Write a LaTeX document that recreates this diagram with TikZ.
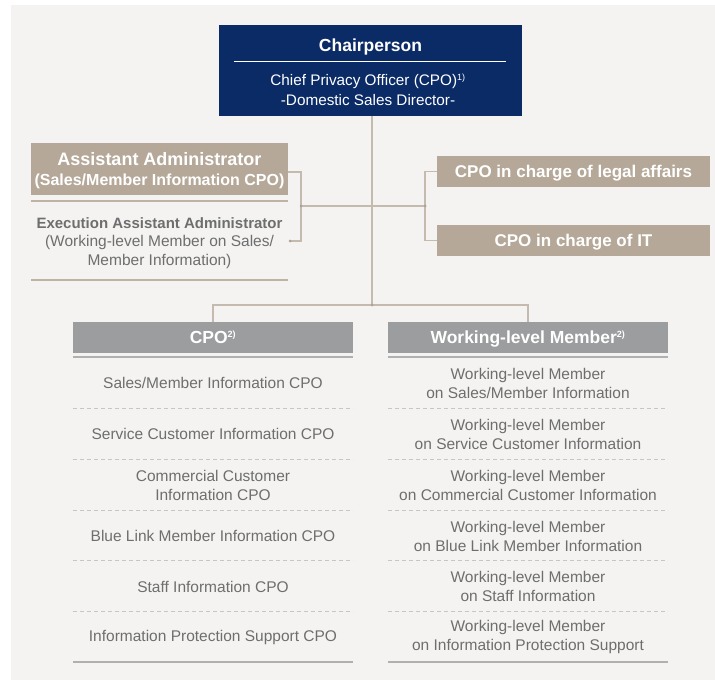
\documentclass[tikz,border=0pt]{standalone}
\usepackage{fontspec}
\setmainfont{Liberation Sans}
\definecolor{bgc}{HTML}{F4F3F1}
\definecolor{navyc}{HTML}{0B2B66}
\definecolor{tanc}{HTML}{B5A898}
\definecolor{tanline}{HTML}{BFB3A6}
\definecolor{hdrc}{HTML}{9B9D9F}
\definecolor{hdrline}{HTML}{AEB0B2}
\definecolor{txtc}{HTML}{6E6E6E}
\definecolor{conc}{HTML}{C4BAAE}
\definecolor{dotc}{HTML}{ADA295}
\definecolor{dashc}{HTML}{C6C6C6}
\begin{document}
\begin{tikzpicture}[x=1pt,y=-1pt,
  conn/.style={draw=conc, line width=1.2pt},
  jdot/.style={circle, fill=dotc, inner sep=0pt, minimum size=3pt},
  box/.style={inner sep=0pt, outer sep=0pt, draw=none},
  tanbox/.style={box, fill=tanc, text=white, minimum width=273pt, minimum height=31pt,
    text height=12pt, text depth=0pt, font=\bfseries\fontsize{17}{20}\selectfont},
  hdr/.style={box, fill=hdrc, text=white, minimum width=280pt, minimum height=31pt,
    text height=12.5pt, text depth=0pt, font=\bfseries\fontsize{17.5}{20}\selectfont},
  rowtxt/.style={text=txtc, align=center, inner sep=0pt, font=\fontsize{15.5}{19}\selectfont},
  dashsep/.style={draw=dashc, line width=1pt, dash pattern=on 4pt off 3pt},
  solidsep/.style={draw=hdrline, line width=1.8pt},
  tansep/.style={draw=tanline, line width=1.4pt}
]
\useasboundingbox (0,0) rectangle (715,680);
\fill[white] (0,0) rectangle (715,680);
\fill[bgc] (11,5) rectangle (715,680);

% Chairperson
\node[box, fill=navyc, minimum width=303pt, minimum height=91pt] (chair) at (370.5,70.5) {};
\node[text=white, inner sep=0pt, font=\bfseries\fontsize{17.5}{20}\selectfont] (chairT) at (370.5,46.5) {Chairperson};
\coordinate (cl1) at (234,61.5);
\coordinate (cl2) at (506,61.5);
\draw[white, line width=1pt] (cl1) -- (cl2);
\node[text=white, inner sep=0pt, align=center, font=\fontsize{15.3}{20}\selectfont] (chairS) at (368,89.5)
  {Chief Privacy Officer (CPO)\textsuperscript{\fontsize{9}{9}\selectfont 1)}\\-Domestic Sales Director-};

% Assistant administrator
\node[box, fill=tanc, minimum width=257pt, minimum height=52pt] (asst) at (159.5,169) {};
\node[text=white, align=center, inner sep=0pt, font=\bfseries\fontsize{16}{20}\selectfont] (asstT) at (159.5,171)
  {{\fontsize{18}{20}\selectfont Assistant Administrator}\\(Sales/Member Information CPO)};
\coordinate (al1) at (31,201);
\coordinate (al2) at (288,201);
\draw[tansep] (al1) -- (al2);
\node[text=txtc, align=center, inner sep=0pt, font=\fontsize{15.5}{18.5}\selectfont] (exec) at (159.5,243)
  {{\bfseries\fontsize{15}{18.5}\selectfont Execution Assistant Administrator}\\(Working-level Member on Sales/\\Member Information)};
\coordinate (el1) at (31,280);
\coordinate (el2) at (288,280);
\draw[tansep] (el1) -- (el2);

% Right boxes
\node[tanbox] (legal) at (573.5,171.5) {CPO in charge of legal affairs};
\node[tanbox] (it) at (573.5,240.5) {CPO in charge of IT};

% Junctions
\coordinate (lbMid) at (301,206);
\coordinate (rbMid) at (425,206);
\coordinate (trunkBot) at (372,305);
\coordinate (execEnd) at (290,241);

\draw[conn] ([yshift=-3pt]asst.east) -| (lbMid) |- (execEnd);
\draw[conn] (lbMid) -- (rbMid);
\draw[conn] (legal.west) -| (rbMid) |- (it.west);
\draw[conn] (chair.south -| trunkBot) -- (trunkBot);

% Column headers
\node[hdr] (cpoh) at (213,337.5) {CPO\textsuperscript{\fontsize{9}{9}\selectfont 2)}};
\node[hdr] (wlh) at (528,337.5) {Working-level Member\textsuperscript{\fontsize{9}{9}\selectfont 2)}};
\draw[conn] (cpoh.north) |- (trunkBot) -| (wlh.north);

\node[jdot] (d1) at (lbMid) {};
\node[jdot] (d2) at (rbMid) {};
\node[jdot] (d3) at (trunkBot) {};
\node[jdot] (d4) at (execEnd) {};

% header underlines
\draw[solidsep, line width=1.5pt] (cpoh.south west) ++(0,4) -- ++(280,0);
\draw[solidsep, line width=1.5pt] (wlh.south west) ++(0,4) -- ++(280,0);

% rows
\node[rowtxt] (l1) at (213,383) {Sales/Member Information CPO};
\node[rowtxt] (l2) at (213,434) {Service Customer Information CPO};
\node[rowtxt] (l3) at (213,485) {Commercial Customer\\Information CPO};
\node[rowtxt] (l4) at (213,536) {Blue Link Member Information CPO};
\node[rowtxt] (l5) at (213,586.5) {Staff Information CPO};
\node[rowtxt] (l6) at (213,637) {Information Protection Support CPO};

\node[rowtxt] (r1) at (528,383) {Working-level Member\\on Sales/Member Information};
\node[rowtxt] (r2) at (528,434) {Working-level Member\\on Service Customer Information};
\node[rowtxt] (r3) at (528,485) {Working-level Member\\on Commercial Customer Information};
\node[rowtxt] (r4) at (528,536) {Working-level Member\\on Blue Link Member Information};
\node[rowtxt] (r5) at (528,586.5) {Working-level Member\\on Staff Information};
\node[rowtxt] (r6) at (528,637) {Working-level Member\\on Information Protection Support};

\foreach \yy in {408,459,510,560.5,611}{
  \draw[dashsep] (73,\yy) -- (353,\yy);
  \draw[dashsep] (388,\yy) -- (668,\yy);
}
\draw[solidsep] (73,662) -- (353,662);
\draw[solidsep] (388,662) -- (668,662);
\end{tikzpicture}
\end{document}
